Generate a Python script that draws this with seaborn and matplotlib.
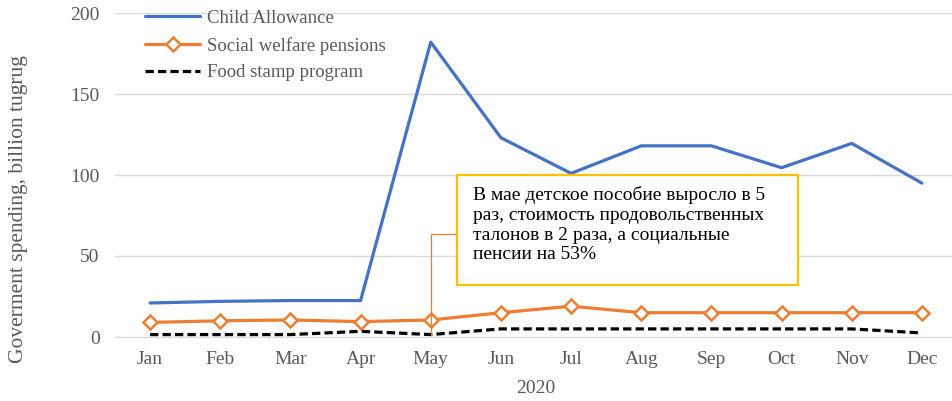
import pandas as pd
import matplotlib.pyplot as plt
import seaborn as sns
from matplotlib.patches import Rectangle

# Données (milliards de tugrug, 2020)
months = ["Jan", "Feb", "Mar", "Apr", "May", "Jun", "Jul", "Aug", "Sep", "Oct", "Nov", "Dec"]
child_allowance = [21, 22, 22.5, 22.5, 182, 123, 101, 118, 118, 104.5, 119.5, 95]
social_welfare = [9, 10, 10.5, 9.5, 10.5, 15, 19, 15, 15, 15, 15, 15]
food_stamp = [1.5, 1.5, 1.5, 3.5, 1.5, 5, 5, 5, 5, 5, 5, 2.5]
note = ("В мае детское пособие выросло в 5\n"
        "раз, стоимость продовольственных\n"
        "талонов в 2 раза, а социальные\n"
        "пенсии на 53%")

df = pd.DataFrame({"Month": months, "Child Allowance": child_allowance,
                   "Social welfare pensions": social_welfare,
                   "Food stamp program": food_stamp})

sns.set_style("white")
plt.rcParams["font.family"] = ["Liberation Serif", "DejaVu Serif"]
grey = "#595959"

fig = plt.figure(figsize=(9.52, 4.01), dpi=100)
ax = fig.add_axes([115 / 952, 64 / 401, 842 / 952, 324 / 401])

sns.lineplot(data=df, x="Month", y="Child Allowance", ax=ax, color="#4472C4",
             lw=2.3, label="Child Allowance", sort=False)
sns.lineplot(data=df, x="Month", y="Social welfare pensions", ax=ax, color="#ED7D31",
             lw=2.3, marker="D", markersize=7.5, markerfacecolor="white",
             markeredgecolor="#ED7D31", markeredgewidth=1.8,
             label="Social welfare pensions", sort=False)
sns.lineplot(data=df, x="Month", y="Food stamp program", ax=ax, color="black",
             lw=2.3, linestyle=(0, (2.6, 1.3)), label="Food stamp program", sort=False)

ax.set_xlim(-0.5, len(months) - 0.5)
ax.set_ylim(0, 200)
ax.set_yticks([0, 50, 100, 150, 200])
ax.grid(axis="y", color="#D9D9D9", lw=1)
ax.set_axisbelow(True)
for s in ["top", "right", "left"]:
    ax.spines[s].set_visible(False)
ax.spines["bottom"].set_color("#D9D9D9")
ax.tick_params(axis="both", length=0, labelsize=14, labelcolor=grey)
ax.tick_params(axis="y", pad=11)
ax.tick_params(axis="x", pad=10)
ax.set_xlabel("2020", fontsize=14, color=grey, labelpad=9)
ax.set_ylabel("Goverment spending, billion tugrug", fontsize=15.5, color=grey)
ax.yaxis.set_label_coords(-0.103, 0.395)

ax.legend(loc="upper left", bbox_to_anchor=(0.016, 1.062), frameon=False, fontsize=13.5,
          labelcolor=grey, handlelength=2.9, handletextpad=0.4, labelspacing=0.52)

# Encadré + trait de rappel vers mai
ax.add_patch(Rectangle((0.406, 0.160), 0.405, 0.340, transform=ax.transAxes,
                       facecolor="white", edgecolor="#FFC000", lw=1.6, zorder=5))
ax.text(0.425, 0.465, note, transform=ax.transAxes, ha="left", va="top",
        fontsize=14, color="black", linespacing=1.2, zorder=6)
ax.annotate("", xy=(months.index("May"), food_stamp[4]), xycoords="data",
            xytext=(0.406, 0.318), textcoords="axes fraction",
            arrowprops=dict(arrowstyle="-", color="#ED7D31", lw=0.9,
                            connectionstyle="angle,angleA=180,angleB=90,rad=0",
                            shrinkA=0, shrinkB=0), zorder=4)

fig.savefig("out.png", dpi=100)
